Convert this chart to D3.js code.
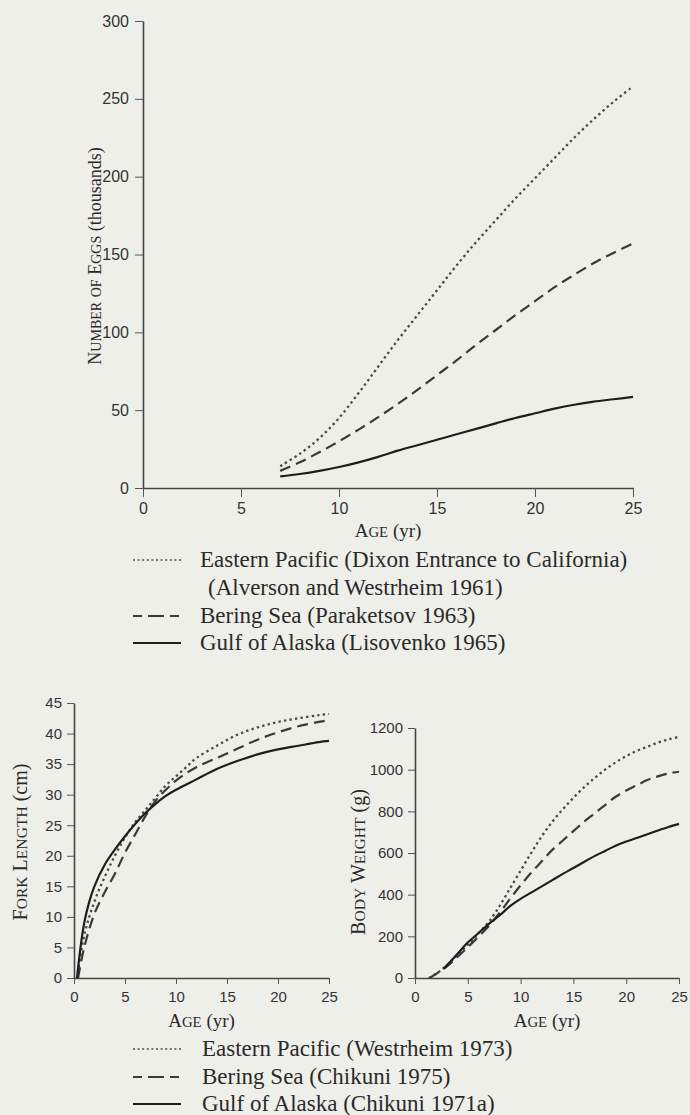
<!DOCTYPE html>
<html>
<head>
<meta charset="utf-8">
<script src="https://cdn.jsdelivr.net/npm/d3@7"></script>
<style>
  html, body { margin: 0; padding: 0; background: #efefea; }
  svg { display: block; }
  .tick text { font-family: "Liberation Sans", Arial, sans-serif; fill: #333; }
  .serif { font-family: "Liberation Serif", "Times New Roman", serif; fill: #2a2a2a; }
</style>
</head>
<body>
<svg id="chart" width="690" height="1115"></svg>
<script>
// ---- Fecundity (thousands of eggs) by age ----
const eggAges = [7, 8, 9, 10, 11, 12, 13, 14, 15, 16, 17, 18, 19, 20, 21, 22, 23, 24, 25];
const eggsEasternPacific = [14, 22, 32, 45, 61, 78, 95, 111, 127, 143, 158, 172, 186, 199, 212, 225, 237, 248, 258];
const eggsBeringSea = [11, 16.5, 23, 30, 37.5, 45.5, 54, 63, 72.5, 82, 92, 101.5, 111, 120, 129, 137, 144.5, 151, 157];
const eggsGulfOfAlaska = [7.5, 9, 11, 13.5, 16.5, 20, 24, 27.5, 31, 34.5, 38, 41.5, 45, 48, 51, 53.5, 55.5, 57, 58.5];
const eggTicksY = [0, 50, 100, 150, 200, 250, 300];
const ageTicks = [0, 5, 10, 15, 20, 25];

// ---- Fork length (cm) by age ----
const lenAgesEP = [0.3, 1, 2, 3, 4, 5, 6, 7, 8, 9, 10, 11, 12, 14, 16, 18, 20, 22, 24, 25];
const lenEasternPacific = [0, 7, 12.5, 16.5, 20, 23, 25.5, 27.5, 29.5, 31.5, 33, 34.5, 36, 38, 39.8, 41, 41.9, 42.5, 43, 43.2];
const lenAgesBS = [0.4, 1, 2, 3, 4, 5, 6, 7, 8, 9, 10, 11, 12, 14, 16, 18, 20, 22, 24, 25];
const lenBeringSea = [0, 5, 10.5, 14, 17, 20.5, 23.5, 26.5, 29, 30.8, 32.3, 33.5, 34.5, 36, 37.5, 39, 40.2, 41.2, 41.9, 42.2];
const lenAgesGA = [0.3, 0.6, 1, 1.5, 2, 3, 4, 5, 6, 7, 8, 9, 10, 12, 14, 16, 18, 20, 22, 24, 25];
const lenGulfOfAlaska = [0, 4.5, 9, 12.5, 15, 18.5, 21, 23.2, 25.2, 27, 28.5, 29.8, 30.8, 32.5, 34.2, 35.5, 36.6, 37.4, 38, 38.6, 38.8];
const lenTicksY = [0, 5, 10, 15, 20, 25, 30, 35, 40, 45];

// ---- Body weight (g) by age ----
const wtAgesEP = [1.3, 2, 3, 4, 5, 6, 7, 8, 9, 10, 11, 12, 13, 14, 15, 16, 17, 18, 19, 20, 21, 22, 23, 24, 25];
const wtEasternPacific = [0, 20, 60, 110, 160, 215, 270, 345, 430, 515, 600, 680, 750, 810, 865, 915, 960, 1000, 1035, 1065, 1090, 1110, 1130, 1145, 1158];
const wtAgesBS = [1.4, 2, 3, 4, 5, 6, 7, 8, 9, 10, 11, 12, 13, 14, 15, 16, 17, 18, 19, 20, 21, 22, 23, 24, 25];
const wtBeringSea = [0, 20, 55, 100, 148, 198, 250, 312, 380, 445, 505, 560, 615, 660, 705, 750, 790, 830, 870, 900, 925, 950, 968, 982, 990];
const wtAgesGA = [2.7, 3, 4, 5, 6, 7, 8, 9, 10, 11, 12, 13, 14, 15, 16, 17, 18, 19, 20, 21, 22, 23, 24, 25];
const wtGulfOfAlaska = [45, 60, 115, 170, 215, 260, 300, 345, 380, 410, 440, 470, 500, 528, 557, 585, 610, 635, 655, 672, 690, 708, 725, 740];
const wtTicksY = [0, 200, 400, 600, 800, 1000, 1200];

// ---- Legends ----
const eggLegend = [
  { style: "dotted", lines: ["Eastern Pacific (Dixon Entrance to California)", "(Alverson and Westrheim 1961)"] },
  { style: "dashed", lines: ["Bering Sea (Paraketsov 1963)"] },
  { style: "solid", lines: ["Gulf of Alaska (Lisovenko 1965)"] }
];
const growthLegend = [
  { style: "dotted", lines: ["Eastern Pacific (Westrheim 1973)"] },
  { style: "dashed", lines: ["Bering Sea (Chikuni 1975)"] },
  { style: "solid", lines: ["Gulf of Alaska (Chikuni 1971a)"] }
];

// Axis titles as [text, smallCaps] segments
const ageTitle = [["A", 0], ["ge", 1], [" (yr)", 0]];
const eggTitle = [["N", 0], ["umber", 1], [" ", 0], ["of", 1], [" ", 0], ["E", 0], ["ggs", 1], [" (thousands)", 0]];
const lenTitle = [["F", 0], ["ork", 1], [" ", 0], ["L", 0], ["ength", 1], [" (cm)", 0]];
const wtTitle = [["B", 0], ["ody", 1], [" ", 0], ["W", 0], ["eight", 1], [" (g)", 0]];

const lineStyles = {
  dotted: { stroke: "#4a4a4a", width: 2.3, dash: "2.4,3.2" },
  dashed: { stroke: "#3a3a3a", width: 2.2, dash: "11,6" },
  solid:  { stroke: "#1e1e1e", width: 2.2, dash: null }
};

const svg = d3.select("#chart");

function smallCapsText(sel, segments, size) {
  segments.forEach(([txt, sc]) => {
    sel.append("tspan")
      .attr("font-size", sc ? size * 0.78 : size)
      .text(sc ? txt.toUpperCase() : txt);
  });
}

function panel(cfg) {
  const x = d3.scaleLinear().domain([0, 25]).range(cfg.xRange);
  const y = d3.scaleLinear().domain(cfg.yDomain).range(cfg.yRange);
  const g = svg.append("g");

  const xAxis = d3.axisBottom(x).tickValues(ageTicks).tickSize(cfg.xTick).tickPadding(cfg.xPad).tickSizeOuter(0).tickFormat(d3.format("d"));
  const yAxis = d3.axisLeft(y).tickValues(cfg.yTicks).tickSize(cfg.yTick).tickPadding(cfg.yPad).tickSizeOuter(0).tickFormat(d3.format("d"));

  const gx = g.append("g").attr("transform", `translate(0,${cfg.yRange[0]})`).call(xAxis);
  const gy = g.append("g").attr("transform", `translate(${cfg.xRange[0]},0)`).call(yAxis);
  [gx, gy].forEach(a => {
    a.select(".domain").attr("stroke", "#444").attr("stroke-width", 1.6);
    a.selectAll(".tick line").attr("stroke", "#555").attr("stroke-width", 1);
    a.selectAll(".tick text").attr("font-size", cfg.tickFont).attr("fill", "#333");
  });

  const line = d3.line().x(d => x(d[0])).y(d => y(d[1])).curve(d3.curveCatmullRom.alpha(0.5));
  cfg.series.forEach(s => {
    const st = lineStyles[s.style];
    g.append("path")
      .datum(d3.zip(s.ages, s.values))
      .attr("fill", "none")
      .attr("stroke", st.stroke)
      .attr("stroke-width", st.width)
      .attr("stroke-dasharray", st.dash)
      .attr("d", line);
  });

  const xt = g.append("text").attr("class", "serif")
    .attr("x", (cfg.xRange[0] + cfg.xRange[1]) / 2)
    .attr("y", cfg.xTitleY)
    .attr("text-anchor", "middle");
  smallCapsText(xt, ageTitle, cfg.xTitleFont);

  const yt = g.append("text").attr("class", "serif")
    .attr("transform", `translate(${cfg.yTitleX},${cfg.yTitleCY}) rotate(-90)`)
    .attr("text-anchor", "middle");
  smallCapsText(yt, cfg.yTitle, cfg.yTitleFont);
}

function legend(items, rows, x0, x1, tx, font) {
  let r = 0;
  items.forEach(item => {
    const st = lineStyles[item.style];
    const yy = rows[r];
    svg.append("line")
      .attr("x1", x0).attr("x2", x1).attr("y1", yy).attr("y2", yy)
      .attr("stroke", st.stroke)
      .attr("stroke-width", item.style === "dotted" ? 1.6 : 2)
      .attr("stroke-dasharray", item.style === "dotted" ? "2,2.6" : (item.style === "dashed" ? "9,6,16,6,9" : null));
    item.lines.forEach((t, i) => {
      svg.append("text").attr("class", "serif")
        .attr("x", tx + (i > 0 ? 8 : 0))
        .attr("y", rows[r] + 7)
        .attr("font-size", font)
        .text(t);
      r++;
    });
  });
}

// Fecundity panel
panel({
  xRange: [143, 633], yDomain: [0, 300], yRange: [488, 21],
  yTicks: eggTicksY, xTick: 9, yTick: 8, xPad: 6, yPad: 6, tickFont: 16,
  xTitleY: 537, xTitleFont: 19, yTitleX: 101, yTitleCY: 256, yTitle: eggTitle, yTitleFont: 18,
  series: [
    { style: "dotted", ages: eggAges, values: eggsEasternPacific },
    { style: "dashed", ages: eggAges, values: eggsBeringSea },
    { style: "solid",  ages: eggAges, values: eggsGulfOfAlaska }
  ]
});
legend(eggLegend, [560, 588, 616, 643], 133, 181, 200, 23);

// Fork length panel
panel({
  xRange: [74, 329], yDomain: [0, 45], yRange: [978, 703],
  yTicks: lenTicksY, xTick: 6, yTick: 7, xPad: 7, yPad: 5, tickFont: 15,
  xTitleY: 1027, xTitleFont: 19, yTitleX: 27, yTitleCY: 842, yTitle: lenTitle, yTitleFont: 20,
  series: [
    { style: "dotted", ages: lenAgesEP, values: lenEasternPacific },
    { style: "dashed", ages: lenAgesBS, values: lenBeringSea },
    { style: "solid",  ages: lenAgesGA, values: lenGulfOfAlaska }
  ]
});

// Body weight panel
panel({
  xRange: [415, 679], yDomain: [0, 1200], yRange: [978, 728],
  yTicks: wtTicksY, xTick: 6, yTick: 7, xPad: 7, yPad: 5, tickFont: 15,
  xTitleY: 1027, xTitleFont: 19, yTitleX: 365, yTitleCY: 862, yTitle: wtTitle, yTitleFont: 20,
  series: [
    { style: "dotted", ages: wtAgesEP, values: wtEasternPacific },
    { style: "dashed", ages: wtAgesBS, values: wtBeringSea },
    { style: "solid",  ages: wtAgesGA, values: wtGulfOfAlaska }
  ]
});

legend(growthLegend, [1049, 1077, 1104], 133, 181, 202, 23);
</script>
</body>
</html>
